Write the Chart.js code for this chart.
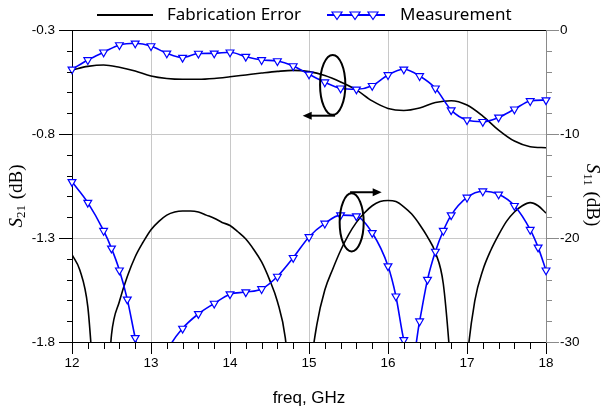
<!DOCTYPE html>
<html>
<head>
<meta charset="utf-8">
<script src="https://cdn.jsdelivr.net/npm/chart.js@4.4.1/dist/chart.umd.min.js"></script>
<style>
  html, body { margin: 0; padding: 0; background: #fff; }
  #wrap { width: 605px; height: 412px; position: relative; }
</style>
</head>
<body>
<div id="wrap"><canvas id="myChart"></canvas></div>
<script>
// S21 (left axis), sampled every 0.2 GHz
const s21Freq = [12.0, 12.2, 12.4, 12.6, 12.8, 13.0, 13.2, 13.4, 13.6, 13.8, 14.0, 14.2, 14.4, 14.6, 14.8,
  15.0, 15.2, 15.4, 15.6, 15.8, 16.0, 16.2, 16.4, 16.6, 16.8, 17.0, 17.2, 17.4, 17.6, 17.8, 18.0];
const fabS21 = [-0.492, -0.475, -0.468, -0.479, -0.497, -0.521, -0.533, -0.537, -0.537, -0.533, -0.525,
  -0.516, -0.507, -0.499, -0.494, -0.500, -0.519, -0.550, -0.588, -0.641, -0.677, -0.687, -0.675, -0.649,
  -0.640, -0.661, -0.714, -0.781, -0.834, -0.861, -0.866];
const measS21 = [-0.489, -0.444, -0.407, -0.372, -0.364, -0.377, -0.412, -0.433, -0.413, -0.412, -0.407,
  -0.428, -0.444, -0.449, -0.473, -0.513, -0.551, -0.580, -0.585, -0.568, -0.516, -0.489, -0.521, -0.580,
  -0.685, -0.733, -0.741, -0.720, -0.681, -0.641, -0.637];

// S11 (right axis), simulated every 0.1 GHz
const fabS11Freq = [12.0, 12.1, 12.2, 12.3, 12.4, 12.5, 12.6, 12.7, 12.8, 12.9, 13.0, 13.1, 13.2, 13.3, 13.4,
  13.5, 13.6, 13.7, 13.8, 13.9, 14.0, 14.1, 14.2, 14.3, 14.4, 14.5, 14.6, 14.7, 14.8, 14.9, 15.0, 15.1, 15.2,
  15.3, 15.4, 15.5, 15.6, 15.7, 15.8, 15.9, 16.0, 16.1, 16.2, 16.3, 16.4, 16.5, 16.6, 16.7, 16.8, 16.9, 17.0,
  17.1, 17.2, 17.3, 17.4, 17.5, 17.6, 17.7, 17.8, 17.9, 18.0];
const fabS11 = [-21.6, -23.1, -26.6, -36, -40, -29.3, -26.1, -23.7, -21.8, -20.4, -19.2, -18.4, -17.8, -17.5,
  -17.4, -17.4, -17.5, -17.8, -18.1, -18.5, -18.8, -19.4, -20.1, -21.1, -22.3, -24.0, -26.1, -29.6, -38, -45,
  -34, -28.3, -25.0, -23.0, -21.2, -19.7, -18.5, -17.6, -16.9, -16.5, -16.4, -16.5, -17.0, -17.7, -18.7,
  -19.9, -21.4, -24.4, -33, -45, -32, -26.0, -23.1, -21.2, -19.7, -18.4, -17.5, -16.9, -16.6, -16.9, -17.6];

// measured S11 points
const measS11Freq = [12.0, 12.2, 12.4, 12.5, 12.6, 12.7, 12.8, 13.0, 13.2, 13.4, 13.6, 13.8, 14.0, 14.2, 14.4,
  14.6, 14.8, 15.0, 15.2, 15.4, 15.6, 15.8, 16.0, 16.1, 16.2, 16.3, 16.4, 16.5, 16.6, 16.7, 16.8, 17.0, 17.2,
  17.4, 17.6, 17.8, 17.9, 18.0];
const measS11 = [-14.6, -16.6, -19.3, -21.0, -23.1, -25.9, -29.6, -36, -31, -28.7, -27.3, -26.3, -25.4, -25.2,
  -24.9, -23.7, -21.9, -19.9, -18.6, -17.8, -17.9, -19.5, -22.7, -25.6, -29.8, -32, -28.0, -24.0, -21.3,
  -19.3, -17.8, -16.1, -15.5, -15.8, -16.9, -19.2, -20.9, -23.1];

const seriesNames = ['Fabrication Error', 'Measurement'];
const xTitle = 'freq, GHz';

const BLUE = '#0000ff';
const pts = (xs, ys) => xs.map((x, i) => ({ x: x, y: ys[i] }));
const near = (a, b) => Math.abs(a - b) < 1e-6;
const isInt = v => near(v, Math.round(v));

const tickFont = { family: 'Liberation Sans, Arial, sans-serif', size: 13.5 };

// down-pointing hollow triangle
function triangle(ctx, x, y, r) {
  ctx.beginPath();
  ctx.moveTo(x - r, y - r * 0.6);
  ctx.lineTo(x + r, y - r * 0.6);
  ctx.lineTo(x, y + r * 0.9);
  ctx.closePath();
  ctx.fillStyle = '#fff';
  ctx.fill();
  ctx.stroke();
}

function arrow(ctx, x0, y0, x1, y1) {
  const dir = Math.sign(x1 - x0);
  ctx.beginPath();
  ctx.moveTo(x0, y0);
  ctx.lineTo(x1 - dir * 6, y1);
  ctx.stroke();
  ctx.beginPath();
  ctx.moveTo(x1, y1);
  ctx.lineTo(x1 - dir * 9, y1 - 4);
  ctx.lineTo(x1 - dir * 9, y1 + 4);
  ctx.closePath();
  ctx.fill();
}

// rotated "S_nn (dB)" title
function sTitle(ctx, cx, cy, angle, sub) {
  ctx.save();
  ctx.translate(cx, cy);
  ctx.rotate(angle);
  const big = '19px "Liberation Serif", "Times New Roman", serif';
  const bigIt = 'italic ' + big;
  const small = '13px "Liberation Serif", "Times New Roman", serif';
  ctx.font = bigIt; const wS = ctx.measureText('S').width;
  ctx.font = small; const wSub = ctx.measureText(sub).width;
  ctx.font = big; const wDb = ctx.measureText(' (dB)').width;
  let x = -(wS + wSub + 1 + wDb) / 2;
  ctx.fillStyle = '#000';
  ctx.textBaseline = 'middle';
  ctx.textAlign = 'left';
  ctx.font = bigIt; ctx.fillText('S', x, 0); x += wS;
  ctx.font = small; ctx.fillText(sub, x, 5); x += wSub + 1;
  ctx.font = big; ctx.fillText(' (dB)', x, 0);
  ctx.restore();
}

const frame = {
  id: 'frame',
  afterDraw(chart) {
    const { ctx, chartArea: a } = chart;
    const { x, y, y1 } = chart.scales;
    ctx.save();
    ctx.lineWidth = 1;

    // top edge
    ctx.strokeStyle = '#000';
    ctx.beginPath();
    ctx.moveTo(a.left, Math.round(a.top) + 0.5);
    ctx.lineTo(a.right, Math.round(a.top) + 0.5);
    ctx.stroke();

    // tick marks
    x.ticks.forEach(t => {
      const px = Math.round(x.getPixelForValue(t.value)) + 0.5;
      ctx.beginPath();
      ctx.moveTo(px, a.bottom);
      ctx.lineTo(px, a.bottom + (isInt(t.value) ? 12 : 7));
      ctx.stroke();
    });
    y.ticks.forEach(t => {
      const py = Math.round(y.getPixelForValue(t.value)) + 0.5;
      ctx.beginPath();
      ctx.moveTo(a.left, py);
      ctx.lineTo(a.left - (t.label ? 13 : 5), py);
      ctx.stroke();
    });
    ctx.strokeStyle = '#8a8a8a';
    y1.ticks.forEach(t => {
      const py = Math.round(y1.getPixelForValue(t.value)) + 0.5;
      ctx.beginPath();
      ctx.moveTo(a.right, py);
      ctx.lineTo(a.right + (t.label ? 13 : 6), py);
      ctx.stroke();
    });

    // ellipses with arrows pointing at the axis each pair belongs to
    ctx.strokeStyle = '#000';
    ctx.fillStyle = '#000';
    ctx.lineWidth = 2;
    const e1x = x.getPixelForValue(15.30), e1y = y.getPixelForValue(-0.564);
    ctx.beginPath();
    ctx.ellipse(e1x, e1y, x.getPixelForValue(15.46) - e1x, y.getPixelForValue(-0.708) - e1y, 0, 0, Math.PI * 2);
    ctx.stroke();
    const a1y = y.getPixelForValue(-0.712);
    arrow(ctx, x.getPixelForValue(15.33), a1y, x.getPixelForValue(14.92), a1y);

    const e2x = x.getPixelForValue(15.54), e2y = y1.getPixelForValue(-18.5);
    ctx.beginPath();
    ctx.ellipse(e2x, e2y, x.getPixelForValue(15.692) - e2x, y1.getPixelForValue(-21.3) - e2y, 0, 0, Math.PI * 2);
    ctx.stroke();
    const a2y = y1.getPixelForValue(-15.6);
    arrow(ctx, x.getPixelForValue(15.52), a2y, x.getPixelForValue(15.92), a2y);

    // axis titles
    ctx.fillStyle = '#000';
    ctx.font = '17px "Liberation Sans", Arial, sans-serif';
    ctx.textAlign = 'center';
    ctx.textBaseline = 'middle';
    ctx.fillText(xTitle, (a.left + a.right) / 2, 398);
    sTitle(ctx, 17, 196, -Math.PI / 2, '21');
    sTitle(ctx, 592, 195, Math.PI / 2, '11');

    // legend
    const ly = 15;
    ctx.lineWidth = 2;
    ctx.strokeStyle = '#000';
    ctx.beginPath(); ctx.moveTo(97, ly); ctx.lineTo(153, ly); ctx.stroke();
    ctx.strokeStyle = BLUE;
    ctx.beginPath(); ctx.moveTo(327, ly); ctx.lineTo(385, ly); ctx.stroke();
    ctx.lineWidth = 1.2;
    [337, 355, 373].forEach(tx => triangle(ctx, tx, ly, 5));
    ctx.fillStyle = '#000';
    ctx.font = '17px "Noto Sans", sans-serif';
    ctx.textAlign = 'left';
    ctx.fillText(seriesNames[0], 167, ly);
    ctx.fillText(seriesNames[1], 400, ly);
    ctx.restore();
  }
};

const blueStyle = {
  borderColor: BLUE,
  borderWidth: 1.6,
  pointStyle: 'triangle',
  rotation: 180,
  pointRadius: 4.5,
  pointBorderWidth: 1.2,
  pointBorderColor: BLUE,
  pointBackgroundColor: '#fff',
  cubicInterpolationMode: 'monotone',
  clip: { left: 6, right: 6, top: 0, bottom: 0 }
};
const blackStyle = {
  borderColor: '#000',
  borderWidth: 1.6,
  pointRadius: 0,
  cubicInterpolationMode: 'monotone',
  clip: 0
};

new Chart(document.querySelector('#myChart'), {
  type: 'line',
  data: {
    datasets: [
      { label: seriesNames[1], data: pts(s21Freq, measS21), yAxisID: 'y', ...blueStyle },
      { label: seriesNames[1], data: pts(measS11Freq, measS11), yAxisID: 'y1', ...blueStyle },
      { label: seriesNames[0], data: pts(s21Freq, fabS21), yAxisID: 'y', ...blackStyle },
      { label: seriesNames[0], data: pts(fabS11Freq, fabS11), yAxisID: 'y1', ...blackStyle }
    ]
  },
  options: {
    responsive: true,
    maintainAspectRatio: false,
    animation: false,
    layout: { padding: { top: 30, left: 0, right: 0, bottom: 0 } },
    plugins: { legend: { display: false }, tooltip: { enabled: false } },
    scales: {
      x: {
        type: 'linear',
        min: 12,
        max: 18,
        afterFit(s) { s.height = 70; },
        ticks: {
          stepSize: 0.2,
          autoSkip: false,
          maxRotation: 0,
          padding: 13,
          color: '#000',
          font: tickFont,
          callback: v => isInt(v) ? String(Math.round(v)) : ''
        },
        grid: {
          drawTicks: false,
          color: c => (c.tick && isInt(c.tick.value)) ? '#c8c8c8' : 'rgba(0,0,0,0)'
        },
        border: { color: '#000', width: 1 }
      },
      y: {
        position: 'left',
        min: -1.8,
        max: -0.3,
        afterFit(s) { s.width = 72; },
        ticks: {
          stepSize: 0.1,
          autoSkip: false,
          padding: 17,
          color: '#000',
          font: tickFont,
          callback: v => isInt((v + 0.3) / 0.5) ? v.toFixed(1) : ''
        },
        grid: {
          drawTicks: false,
          color: c => (c.tick && isInt((c.tick.value + 0.3) / 0.5)) ? '#c8c8c8' : 'rgba(0,0,0,0)'
        },
        border: { color: '#000', width: 1 }
      },
      y1: {
        position: 'right',
        min: -30,
        max: 0,
        afterFit(s) { s.width = 59; },
        ticks: {
          stepSize: 2,
          autoSkip: false,
          padding: 14,
          color: '#000',
          font: tickFont,
          callback: v => isInt(v / 10) ? String(Math.round(v)) : ''
        },
        grid: { drawTicks: false, drawOnChartArea: false },
        border: { color: '#8a8a8a', width: 1 }
      }
    }
  },
  plugins: [frame]
});
</script>
</body>
</html>
